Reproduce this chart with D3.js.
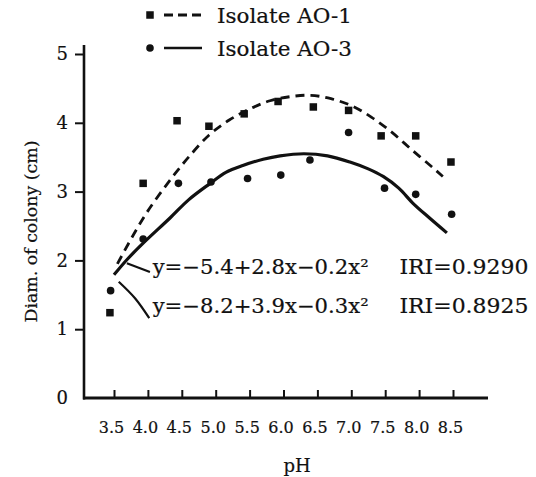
<!DOCTYPE html>
<html><head><meta charset="utf-8">
<script src="https://cdn.jsdelivr.net/npm/d3@7"></script>
<style>body{margin:0;background:#fff}svg{display:block}</style>
</head><body>
<svg id="c" width="536" height="477"></svg>
<script>
// ---- data ----
const xTickValues = [3.5, 4.0, 4.5, 5.0, 5.5, 6.0, 6.5, 7.0, 7.5, 8.0, 8.5];
const xTickLabels = ["3.5", "4.0", "4.5", "5.0", "5.5", "6.0", "6.5", "7.0", "7.5", "8.0", "8.5"];
const yTickValues = [0, 1, 2, 3, 4, 5];
const seriesNames = ["Isolate AO-1", "Isolate AO-3"];

// observed points
const ao1pH   = [3.44, 3.93, 4.43, 4.90, 5.42, 5.92, 6.44, 6.96, 7.44, 7.95, 8.47];
const ao1Diam = [1.24, 3.12, 4.03, 3.95, 4.13, 4.31, 4.23, 4.18, 3.81, 3.81, 3.43];
const ao3pH   = [3.45, 3.93, 4.45, 4.93, 5.47, 5.96, 6.39, 6.96, 7.49, 7.95, 8.48];
const ao3Diam = [1.56, 2.31, 3.12, 3.14, 3.19, 3.24, 3.46, 3.86, 3.05, 2.96, 2.67];

// fitted curves
const fit1pH   = [3.55, 3.70, 3.85, 4.00, 4.20, 4.40, 4.60, 4.90, 5.20, 5.50, 5.80, 6.10, 6.40, 6.70, 7.00, 7.30, 7.60, 7.90, 8.20, 8.35];
const fit1Diam = [1.95, 2.22, 2.48, 2.72, 3.00, 3.26, 3.50, 3.82, 4.04, 4.20, 4.32, 4.38, 4.40, 4.35, 4.25, 4.08, 3.86, 3.60, 3.35, 3.22];
const fit3pH   = [3.50, 3.70, 3.93, 4.33, 4.60, 4.92, 5.15, 5.40, 5.70, 5.95, 6.30, 6.65, 6.98, 7.25, 7.47, 7.70, 7.91, 8.15, 8.41];
const fit3Diam = [1.79, 2.02, 2.25, 2.62, 2.88, 3.12, 3.28, 3.38, 3.47, 3.52, 3.55, 3.52, 3.43, 3.33, 3.22, 3.05, 2.83, 2.62, 2.40];

// leader lines to equations
const leader1pH   = [3.69, 4.03];
const leader1Diam = [1.96, 1.83];
const leader2pH   = [3.57, 3.81, 4.02];
const leader2Diam = [1.69, 1.45, 1.16];

const equations = ["y=−5.4+2.8x−0.2x²", "y=−8.2+3.9x−0.3x²"];
const rValues = ["IRI=0.9290", "IRI=0.8925"];
const yTitle = "Diam. of colony (cm)";
const xTitle = "pH";

// ---- drawing ----
const svg = d3.select("#c");
const ink = "#111";
const font2 = "'DejaVu Serif','Liberation Serif',serif";

const x = d3.scaleLinear().domain([3.5, 8.5]).range([114, 453]);
const y = d3.scaleLinear().domain([0, 5]).range([398, 54]);

function heavy(sel, w) { return sel.attr("stroke", ink).attr("stroke-width", w); }

// y axis
const yAxis = svg.append("g").attr("transform", `translate(${x(3.5) - 30},0)`)
  .call(d3.axisLeft(y).tickValues(yTickValues).tickSize(9).tickPadding(7).tickFormat(d3.format("d")));
yAxis.select(".domain").remove();
yAxis.selectAll(".tick line").attr("stroke", ink).attr("stroke-width", 2)
  .filter(d => d === 0).remove();
heavy(yAxis.selectAll(".tick text").attr("font-family", font2).attr("font-size", 18).attr("fill", ink), 0.2);

// x axis
const xAxis = svg.append("g").attr("transform", `translate(0,${y(0)})`)
  .call(d3.axisBottom(x).tickValues(xTickValues).tickSizeInner(-8).tickSizeOuter(0)
    .tickFormat((d, i) => xTickLabels[i]));
xAxis.select(".domain").remove();
xAxis.selectAll(".tick line").attr("stroke", ink).attr("stroke-width", 2);
heavy(xAxis.selectAll(".tick text").attr("font-family", font2).attr("font-size", 16).attr("fill", ink)
  .attr("y", 35).attr("dy", 0).attr("dx", -3), 0.2);

// axis lines
svg.append("line").attr("x1", x(3.5) - 30).attr("x2", x(3.5) - 30)
  .attr("y1", y(5) - 9).attr("y2", y(0) + 1.5).attr("stroke", ink).attr("stroke-width", 2.6);
svg.append("line").attr("x1", x(3.5) - 31).attr("x2", x(8.5) + 35)
  .attr("y1", y(0)).attr("y2", y(0)).attr("stroke", ink).attr("stroke-width", 3.2);

// curves
const lineGen = d3.line().x(d => x(d[0])).y(d => y(d[1])).curve(d3.curveCatmullRom);
const fit1 = fit1pH.map((v, i) => [v, fit1Diam[i]]);
const fit3 = fit3pH.map((v, i) => [v, fit3Diam[i]]);
svg.append("path").attr("d", lineGen(fit1)).attr("fill", "none").attr("stroke", ink)
  .attr("stroke-width", 2.8).attr("stroke-dasharray", "9,6");
svg.append("path").attr("d", lineGen(fit3)).attr("fill", "none").attr("stroke", ink)
  .attr("stroke-width", 3.2);

// leaders
svg.append("path").attr("d", lineGen(leader1pH.map((v, i) => [v, leader1Diam[i]])))
  .attr("fill", "none").attr("stroke", ink).attr("stroke-width", 2.2);
svg.append("path").attr("d", lineGen(leader2pH.map((v, i) => [v, leader2Diam[i]])))
  .attr("fill", "none").attr("stroke", ink).attr("stroke-width", 2.2);

// points
const sq = 7.5;
svg.append("g").selectAll("rect").data(ao1pH.map((v, i) => [v, ao1Diam[i]])).join("rect")
  .attr("x", d => x(d[0]) - sq / 2).attr("y", d => y(d[1]) - sq / 2)
  .attr("width", sq).attr("height", sq).attr("fill", ink);
svg.append("g").selectAll("circle").data(ao3pH.map((v, i) => [v, ao3Diam[i]])).join("circle")
  .attr("cx", d => x(d[0])).attr("cy", d => y(d[1])).attr("r", 3.8).attr("fill", ink);

// equations
const eqG = svg.append("g").attr("font-family", font2).attr("font-size", 20).attr("fill", ink);
[0, 1].forEach(i => {
  const by = y(1.80) + i * (y(1.23) - y(1.80));
  heavy(eqG.append("text").attr("x", x(4.07)).attr("y", by).attr("textLength", 216)
    .attr("lengthAdjust", "spacingAndGlyphs").text(equations[i]), 0.2);
  heavy(eqG.append("text").attr("x", x(7.71)).attr("y", by).attr("textLength", 129)
    .attr("lengthAdjust", "spacingAndGlyphs").text(rValues[i]), 0.2);
});

// legend
const leg = svg.append("g");
[0, 1].forEach(i => {
  const ly = 15 + i * 33;
  if (i === 0) leg.append("rect").attr("x", 150 - sq / 2).attr("y", ly - sq / 2).attr("width", sq).attr("height", sq).attr("fill", ink);
  else leg.append("circle").attr("cx", 150).attr("cy", ly).attr("r", 3.8).attr("fill", ink);
  leg.append("line").attr("x1", 164).attr("x2", 202).attr("y1", ly).attr("y2", ly)
    .attr("stroke", ink).attr("stroke-width", i === 0 ? 3 : 2.4)
    .attr("stroke-dasharray", i === 0 ? "9,5" : null);
  heavy(leg.append("text").attr("x", 217).attr("y", ly + 8).attr("font-family", font2)
    .attr("font-size", 21).attr("fill", ink).attr("textLength", 135)
    .attr("lengthAdjust", "spacingAndGlyphs").text(seriesNames[i]), 0.2);
});

// titles
heavy(svg.append("text").attr("transform", `translate(37,${y(2.42)}) rotate(-90)`)
  .attr("text-anchor", "middle").attr("font-family", font2).attr("font-size", 17)
  .attr("fill", ink).attr("textLength", 182).attr("lengthAdjust", "spacingAndGlyphs").text(yTitle), 0.2);
heavy(svg.append("text").attr("x", x(6.2)).attr("y", 472).attr("text-anchor", "middle")
  .attr("font-family", font2).attr("font-size", 18).attr("fill", ink).text(xTitle), 0.2);
</script>
</body></html>
